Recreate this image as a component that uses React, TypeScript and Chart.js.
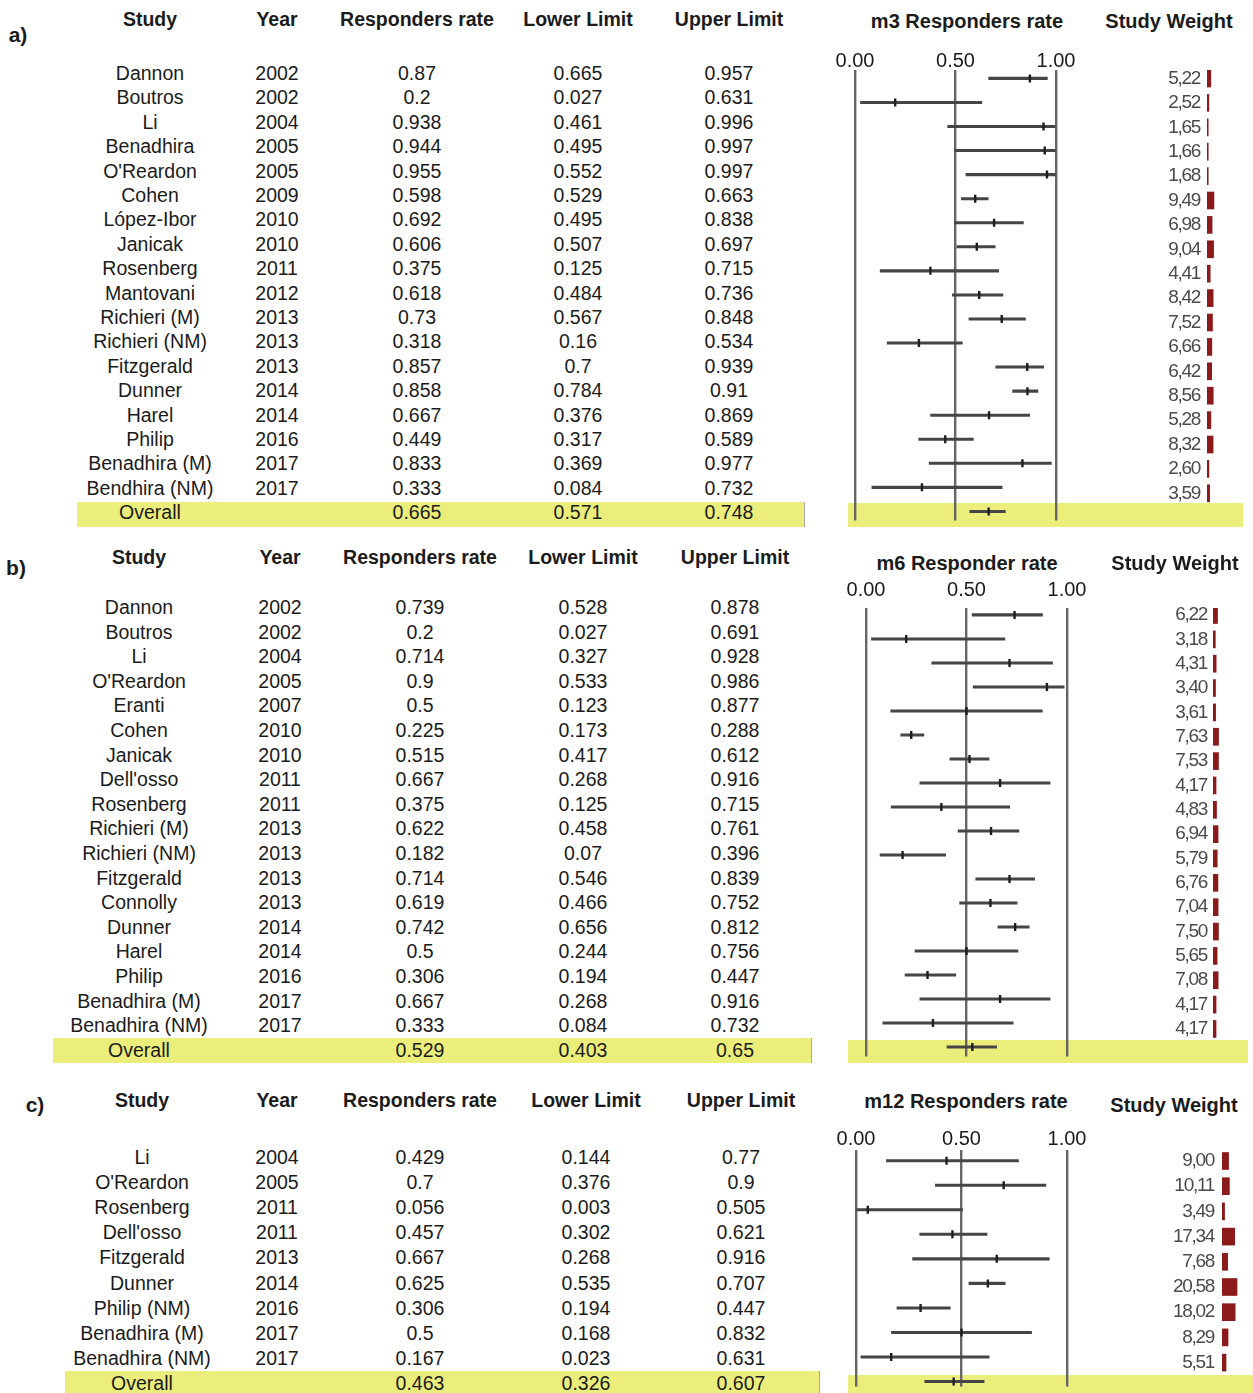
import React, { useEffect, useRef } from "react";
import { Chart, registerables } from "chart.js";

Chart.register(...registerables);

// ---------------- Panel a) m3 ----------------
const studiesA = ["Dannon", "Boutros", "Li", "Benadhira", "O'Reardon", "Cohen", "López-Ibor", "Janicak", "Rosenberg", "Mantovani", "Richieri (M)", "Richieri (NM)", "Fitzgerald", "Dunner", "Harel", "Philip", "Benadhira (M)", "Bendhira (NM)"];
const yearsA = [2002, 2002, 2004, 2005, 2005, 2009, 2010, 2010, 2011, 2012, 2013, 2013, 2013, 2014, 2014, 2016, 2017, 2017];
const rateA = [0.87, 0.2, 0.938, 0.944, 0.955, 0.598, 0.692, 0.606, 0.375, 0.618, 0.73, 0.318, 0.857, 0.858, 0.667, 0.449, 0.833, 0.333];
const lowerA = [0.665, 0.027, 0.461, 0.495, 0.552, 0.529, 0.495, 0.507, 0.125, 0.484, 0.567, 0.16, 0.7, 0.784, 0.376, 0.317, 0.369, 0.084];
const upperA = [0.957, 0.631, 0.996, 0.997, 0.997, 0.663, 0.838, 0.697, 0.715, 0.736, 0.848, 0.534, 0.939, 0.91, 0.869, 0.589, 0.977, 0.732];
const weightA = [5.22, 2.52, 1.65, 1.66, 1.68, 9.49, 6.98, 9.04, 4.41, 8.42, 7.52, 6.66, 6.42, 8.56, 5.28, 8.32, 2.6, 3.59];
const overallA = [0.665, 0.571, 0.748];

// ---------------- Panel b) m6 ----------------
const studiesB = ["Dannon", "Boutros", "Li", "O'Reardon", "Eranti", "Cohen", "Janicak", "Dell'osso", "Rosenberg", "Richieri (M)", "Richieri (NM)", "Fitzgerald", "Connolly", "Dunner", "Harel", "Philip", "Benadhira (M)", "Benadhira (NM)"];
const yearsB = [2002, 2002, 2004, 2005, 2007, 2010, 2010, 2011, 2011, 2013, 2013, 2013, 2013, 2014, 2014, 2016, 2017, 2017];
const rateB = [0.739, 0.2, 0.714, 0.9, 0.5, 0.225, 0.515, 0.667, 0.375, 0.622, 0.182, 0.714, 0.619, 0.742, 0.5, 0.306, 0.667, 0.333];
const lowerB = [0.528, 0.027, 0.327, 0.533, 0.123, 0.173, 0.417, 0.268, 0.125, 0.458, 0.07, 0.546, 0.466, 0.656, 0.244, 0.194, 0.268, 0.084];
const upperB = [0.878, 0.691, 0.928, 0.986, 0.877, 0.288, 0.612, 0.916, 0.715, 0.761, 0.396, 0.839, 0.752, 0.812, 0.756, 0.447, 0.916, 0.732];
const weightB = [6.22, 3.18, 4.31, 3.4, 3.61, 7.63, 7.53, 4.17, 4.83, 6.94, 5.79, 6.76, 7.04, 7.5, 5.65, 7.08, 4.17, 4.17];
const overallB = [0.529, 0.403, 0.65];

// ---------------- Panel c) m12 ----------------
const studiesC = ["Li", "O'Reardon", "Rosenberg", "Dell'osso", "Fitzgerald", "Dunner", "Philip (NM)", "Benadhira (M)", "Benadhira (NM)"];
const yearsC = [2004, 2005, 2011, 2011, 2013, 2014, 2016, 2017, 2017];
const rateC = [0.429, 0.7, 0.056, 0.457, 0.667, 0.625, 0.306, 0.5, 0.167];
const lowerC = [0.144, 0.376, 0.003, 0.302, 0.268, 0.535, 0.194, 0.168, 0.023];
const upperC = [0.77, 0.9, 0.505, 0.621, 0.916, 0.707, 0.447, 0.832, 0.631];
const weightC = [9.0, 10.11, 3.49, 17.34, 7.68, 20.58, 18.02, 8.29, 5.51];
const overallC = [0.463, 0.326, 0.607];

const axisTicks = [0, 0.5, 1];
const tableHeaders = ["Study", "Year", "Responders rate", "Lower Limit", "Upper Limit"];

// ---------------- Styling / layout ----------------
const FONT = "'Liberation Sans', Arial, Helvetica, sans-serif";
const TEXT = "#1b1b1b";
const YELLOW = "#ECEE7C";
const AXIS_H = 40;
const PAD = 30;
const VPAD = 30;
const PX_PER_WEIGHT = 0.73;
const WBOX = 30;
const YW = 80;

type Layout = {
  tag: string; tagX: number; tagY: number;
  headY: number; cols: number[];
  plotTitle: string; plotTitleX: number; plotTitleY: number;
  weightTitleX: number; weightTitleY: number;
  ty0: number; tstep: number;
  r0: number; rstep: number;
  top: number; bottom: number; x0: number; x1: number; labelY: number;
  bandTable: number[]; bandPlot: number[];
  barLeft: number; wPad: number;
};

const layoutA: Layout = {
  tag: "a)", tagX: 18, tagY: 34, headY: 20, cols: [150, 277, 417, 578, 729],
  plotTitle: "m3 Responders rate", plotTitleX: 967, plotTitleY: 21, weightTitleX: 1169, weightTitleY: 21,
  ty0: 74, tstep: 24.4, r0: 78.5, rstep: 24.4,
  top: 70, bottom: 527, x0: 855, x1: 1056, labelY: 61,
  bandTable: [77, 502, 805, 527], bandPlot: [848, 503, 1243, 527],
  barLeft: 1207, wPad: 7,
};
const layoutB: Layout = {
  tag: "b)", tagX: 16, tagY: 567, headY: 558, cols: [139, 280, 420, 583, 735],
  plotTitle: "m6 Responder rate", plotTitleX: 967, plotTitleY: 563, weightTitleX: 1175, weightTitleY: 563,
  ty0: 608, tstep: 24.6, r0: 615, rstep: 24.35,
  top: 608, bottom: 1063, x0: 866, x1: 1067, labelY: 590,
  bandTable: [53, 1038, 812, 1063], bandPlot: [848, 1040, 1248, 1063],
  barLeft: 1213, wPad: 6,
};
const layoutC: Layout = {
  tag: "c)", tagX: 35, tagY: 1104, headY: 1101, cols: [142, 277, 420, 586, 741],
  plotTitle: "m12 Responders rate", plotTitleX: 966, plotTitleY: 1101, weightTitleX: 1174, weightTitleY: 1105,
  ty0: 1158, tstep: 25.1, r0: 1161, rstep: 25.2,
  top: 1150, bottom: 1393, x0: 856, x1: 1067, labelY: 1139,
  bandTable: [65, 1371, 820, 1393], bandPlot: [848, 1375, 1253, 1393],
  barLeft: 1222, wPad: 8,
};

function T(props: { x: number; y: number; children: React.ReactNode; bold?: boolean; size?: number; color?: string }) {
  const { x, y, children, bold, size = 19.5, color = TEXT } = props;
  return (
    <div
      style={{
        position: "absolute", left: x, top: y, transform: "translate(-50%, -50%)",
        whiteSpace: "nowrap", fontFamily: FONT, fontSize: size, fontWeight: bold ? 700 : 400,
        color, lineHeight: 1,
      }}
    >
      {children}
    </div>
  );
}

const condensePlugin = {
  id: "condenseText",
  beforeDraw(chart: any) {
    chart.ctx.letterSpacing = "-1.3px";
  },
};

function ForestChart(props: { L: Layout; rate: number[]; lower: number[]; upper: number[]; overall: number[] }) {
  const { L, rate, lower, upper, overall } = props;
  const ref = useRef<HTMLCanvasElement>(null);
  const width = L.x1 - L.x0 + 2 * PAD;
  const height = AXIS_H + (L.bottom - L.top);
  useEffect(() => {
    const n = rate.length;
    const ci = lower.map((l, i) => ({ x: [l, upper[i]], y: i }));
    ci.push({ x: [overall[1], overall[2]], y: n });
    const pts = rate.map((r, i) => ({ x: r, y: i }));
    pts.push({ x: overall[0], y: n });
    const yMin = (L.top - L.r0) / L.rstep;
    const yMax = (L.bottom - L.r0) / L.rstep;
    const tickPad = L.top - L.labelY - 10;
    const chart = new Chart(ref.current as HTMLCanvasElement, {
      type: "bar",
      data: {
        datasets: [
          {
            type: "bar", data: ci as any, backgroundColor: "#454545",
            barThickness: 2.4, borderWidth: 0, grouped: false, order: 2,
          } as any,
          {
            type: "scatter", data: pts as any, pointStyle: "line", rotation: 90, radius: 4,
            borderColor: "#1e1e1e", backgroundColor: "#1e1e1e", borderWidth: 2.4, order: 1,
          } as any,
        ],
      },
      options: {
        indexAxis: "y",
        animation: false,
        responsive: false,
        maintainAspectRatio: false,
        layout: { padding: { left: PAD, right: PAD, top: 0, bottom: 0 } },
        plugins: { legend: { display: false }, tooltip: { enabled: false } },
        scales: {
          x: {
            type: "linear", position: "top", min: 0, max: 1, offset: false,
            afterFit: (s: any) => { s.height = AXIS_H; },
            afterBuildTicks: (s: any) => { s.ticks = axisTicks.map((v) => ({ value: v })); },
            ticks: {
              callback: (v: any) => Number(v).toFixed(2),
              font: { family: FONT, size: 20, lineHeight: 1 },
              color: "#1b1b1b", padding: tickPad, maxRotation: 0, autoSkip: false,
            },
            grid: { color: "#666666", lineWidth: 2.4, drawTicks: false, offset: false },
            border: { display: false },
          },
          y: { type: "linear", min: yMin, max: yMax, reverse: true, display: false, offset: false, grid: { offset: false } },
        },
      } as any,
    });
    return () => chart.destroy();
  }, []);
  return (
    <canvas
      ref={ref}
      width={width}
      height={height}
      style={{ position: "absolute", left: L.x0 - PAD, top: L.top - AXIS_H, width, height }}
    />
  );
}

function WeightChart(props: { L: Layout; weights: number[] }) {
  const { L, weights } = props;
  const ref = useRef<HTMLCanvasElement>(null);
  const width = YW + WBOX;
  const height = L.bottom - L.top + 2 * VPAD;
  useEffect(() => {
    const yMin = (L.top - L.r0) / L.rstep;
    const yMax = (L.bottom - L.r0) / L.rstep;
    const chart = new Chart(ref.current as HTMLCanvasElement, {
      type: "bar",
      data: {
        datasets: [
          {
            data: weights.map((w, i) => ({ x: w, y: i })) as any,
            backgroundColor: "#8B1A1A", borderWidth: 0, barThickness: 17,
          } as any,
        ],
      },
      plugins: [condensePlugin],
      options: {
        indexAxis: "y",
        animation: false,
        responsive: false,
        maintainAspectRatio: false,
        layout: { padding: { left: 0, right: 0, top: VPAD, bottom: VPAD } },
        plugins: { legend: { display: false }, tooltip: { enabled: false } },
        scales: {
          x: { type: "linear", min: 0, max: WBOX / PX_PER_WEIGHT, display: false, offset: false },
          y: {
            type: "linear", position: "left", min: yMin, max: yMax, reverse: true, offset: false,
            afterFit: (s: any) => { s.width = YW; },
            afterBuildTicks: (s: any) => { s.ticks = weights.map((_, i) => ({ value: i })); },
            ticks: {
              callback: (_v: any, idx: number) => weights[idx].toFixed(2).replace(".", ","),
              font: { family: FONT, size: 19 },
              color: "#4a4a4a", padding: L.wPad, autoSkip: false,
            },
            grid: { display: false, drawTicks: false, offset: false },
            border: { display: false },
          },
        },
      } as any,
    });
    return () => chart.destroy();
  }, []);
  return (
    <canvas
      ref={ref}
      width={width}
      height={height}
      style={{ position: "absolute", left: L.barLeft - YW, top: L.top - VPAD, width, height }}
    />
  );
}

function Panel(props: {
  L: Layout; studies: string[]; years: number[]; rate: number[]; lower: number[]; upper: number[];
  weights: number[]; overall: number[];
}) {
  const { L, studies, years, rate, lower, upper, weights, overall } = props;
  const [tx0, ty0, tx1, ty1] = L.bandTable;
  const [px0, py0, px1, py1] = L.bandPlot;
  const n = studies.length;
  return (
    <>
      <div style={{ position: "absolute", left: tx0, top: ty0, width: tx1 - tx0, height: ty1 - ty0, background: YELLOW, borderRight: "1px solid #a8a8a8", boxSizing: "border-box" }} />
      <div style={{ position: "absolute", left: px0, top: py0, width: px1 - px0, height: py1 - py0, background: YELLOW }} />
      <T x={L.tagX} y={L.tagY} bold size={21}>{L.tag}</T>
      {tableHeaders.map((h, i) => (
        <T key={"h" + i} x={L.cols[i]} y={L.headY} bold size={19.5}>{h}</T>
      ))}
      <T x={L.plotTitleX} y={L.plotTitleY} bold size={20}>{L.plotTitle}</T>
      <T x={L.weightTitleX} y={L.weightTitleY} bold size={20}>Study Weight</T>
      {studies.map((s, i) => {
        const y = L.ty0 + i * L.tstep;
        return (
          <React.Fragment key={"r" + i}>
            <T x={L.cols[0]} y={y}>{s}</T>
            <T x={L.cols[1]} y={y}>{String(years[i])}</T>
            <T x={L.cols[2]} y={y}>{String(rate[i])}</T>
            <T x={L.cols[3]} y={y}>{String(lower[i])}</T>
            <T x={L.cols[4]} y={y}>{String(upper[i])}</T>
          </React.Fragment>
        );
      })}
      <T x={L.cols[0]} y={L.ty0 + n * L.tstep}>Overall</T>
      <T x={L.cols[2]} y={L.ty0 + n * L.tstep}>{String(overall[0])}</T>
      <T x={L.cols[3]} y={L.ty0 + n * L.tstep}>{String(overall[1])}</T>
      <T x={L.cols[4]} y={L.ty0 + n * L.tstep}>{String(overall[2])}</T>
      <ForestChart L={L} rate={rate} lower={lower} upper={upper} overall={overall} />
      <WeightChart L={L} weights={weights} />
    </>
  );
}

export default function App() {
  return (
    <div style={{ position: "fixed", left: 0, top: 0, width: 1253, height: 1393, overflow: "hidden", background: "#fff" }}>
      <Panel L={layoutA} studies={studiesA} years={yearsA} rate={rateA} lower={lowerA} upper={upperA} weights={weightA} overall={overallA} />
      <Panel L={layoutB} studies={studiesB} years={yearsB} rate={rateB} lower={lowerB} upper={upperB} weights={weightB} overall={overallB} />
      <Panel L={layoutC} studies={studiesC} years={yearsC} rate={rateC} lower={lowerC} upper={upperC} weights={weightC} overall={overallC} />
    </div>
  );
}
